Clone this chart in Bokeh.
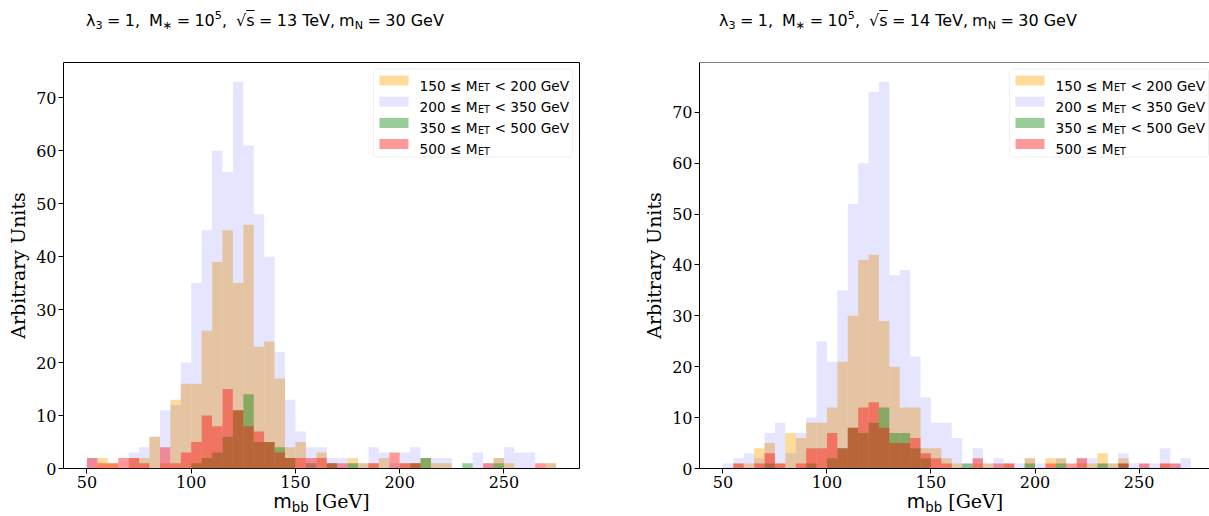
from bokeh.plotting import figure
from bokeh.layouts import row, column
from bokeh.models import FixedTicker, Label, BoxAnnotation, Span, Div
from bokeh.embed import file_html
from bokeh.resources import INLINE

# bin edges (GeV)
bin_left = list(range(50, 275, 5))
bin_right = [b + 5 for b in bin_left]

# sqrt(s) = 13 TeV
o13 = [0, 2, 1, 0, 2, 2, 6, 1, 13, 16, 16, 26, 39, 45, 35, 46, 23, 24, 17, 4, 5, 0, 3, 1, 0,
       2, 1, 1, 2, 0, 1, 1, 2, 1, 1, 0, 0, 0, 0, 2, 1, 0, 0, 0, 1]
b13 = [2, 0, 0, 0, 3, 4, 6, 11, 12, 20, 35, 45, 60, 56, 73, 61, 48, 40, 22, 13, 7, 4, 4, 2, 2,
       1, 1, 4, 3, 1, 3, 4, 2, 2, 2, 0, 0, 3, 1, 2, 4, 3, 3, 0, 1]
g13 = [0, 0, 0, 0, 0, 0, 0, 0, 0, 0, 1, 2, 3, 6, 11, 14, 5, 5, 4, 2, 0, 1, 0, 1, 0,
       1, 0, 0, 0, 0, 0, 1, 2, 0, 0, 0, 1, 0, 0, 1, 0, 0, 0, 0, 0]
r13 = [2, 1, 1, 2, 2, 1, 0, 4, 1, 3, 5, 10, 8, 15, 11, 8, 7, 5, 3, 2, 2, 2, 2, 1, 1,
       0, 0, 1, 0, 3, 1, 1, 0, 0, 0, 0, 0, 0, 1, 0, 0, 0, 0, 1, 0]

# sqrt(s) = 14 TeV
o14 = [0, 1, 1, 4, 5, 1, 7, 6, 9, 9, 12, 21, 30, 41, 42, 29, 20, 12, 12, 4, 4, 2, 1, 0, 1,
       1, 0, 1, 0, 2, 0, 2, 2, 0, 1, 1, 3, 1, 2, 0, 0, 0, 1, 0, 0]
b14 = [1, 2, 3, 2, 7, 9, 3, 7, 10, 25, 21, 35, 52, 60, 74, 76, 38, 39, 22, 14, 9, 9, 6, 1, 4,
       1, 2, 1, 1, 2, 1, 0, 2, 0, 2, 2, 1, 1, 3, 1, 1, 1, 4, 1, 2]
g14 = [0, 0, 0, 0, 1, 0, 0, 0, 1, 0, 2, 4, 8, 7, 9, 12, 7, 7, 4, 2, 0, 0, 0, 1, 0,
       0, 0, 0, 0, 1, 0, 0, 1, 0, 0, 0, 1, 0, 1, 0, 0, 0, 0, 0, 0]
r14 = [0, 1, 0, 1, 3, 1, 0, 1, 4, 4, 7, 4, 8, 12, 13, 8, 5, 5, 6, 3, 2, 1, 0, 0, 2,
       0, 1, 1, 0, 0, 0, 1, 0, 1, 2, 0, 0, 0, 1, 0, 1, 0, 1, 1, 0]

x_ticks = [50, 100, 150, 200, 250]
y_ticks = [0, 10, 20, 30, 40, 50, 60, 70]

series_head = ["150 \u2264 M", "200 \u2264 M", "350 \u2264 M", "500 \u2264 M"]
series_tail = ["< 200 GeV", "< 350 GeV", "< 500 GeV", ""]
colors = ["orange", "blue", "green", "red"]
alphas = [0.4, 0.1, 0.4, 0.4]

SANS = "DejaVu Sans"
SERIF = "DejaVu Serif"

TITLE_H = 44
FIG_H = 454
XL_H = 516 - TITLE_H - FIG_H


def make_panel(data, width, left_border, right_border, x_end, spine_right):
    ymax = max(max(d) for d in data) * 1.05
    p = figure(width=width, height=FIG_H, x_range=(38.75, x_end), y_range=(0, ymax),
               output_backend="svg", toolbar_location=None,
               min_border_left=left_border, min_border_right=right_border,
               min_border_top=62 - TITLE_H, min_border_bottom=FIG_H - (62 - TITLE_H) - 406)
    p.margin = 0
    p.xgrid.visible = False
    p.ygrid.visible = False
    p.background_fill_color = "white"
    p.border_fill_color = "white"
    if spine_right:
        p.outline_line_color = "black"
        p.outline_line_width = 1
        p.xaxis.axis_line_color = None
        p.yaxis.axis_line_color = None
    else:
        p.outline_line_color = None
        p.xaxis.axis_line_color = "black"
        p.yaxis.axis_line_color = "black"
        p.add_layout(Span(location=ymax, dimension="width", line_color="black", line_width=1))

    for vals, c, a in zip(data, colors, alphas):
        p.quad(left=bin_left, right=bin_right, bottom=0, top=vals,
               fill_color=c, fill_alpha=a, line_color=None)

    for ax, ticks in ((p.xaxis, x_ticks), (p.yaxis, y_ticks)):
        ax.ticker = FixedTicker(ticks=ticks)
        ax.minor_tick_line_color = None
        ax.major_tick_out = 5
        ax.major_tick_in = 0
        ax.major_tick_line_color = "black"
        ax.major_label_text_font = SERIF
        ax.major_label_text_font_size = "16px"
        ax.major_label_text_color = "black"
    p.xaxis.major_label_standoff = 2
    p.yaxis.major_label_standoff = 2
    p.yaxis.axis_label = "Arbitrary Units"
    p.yaxis.axis_label_text_font = SERIF
    p.yaxis.axis_label_text_font_size = "19px"
    p.yaxis.axis_label_text_font_style = "normal"
    p.yaxis.axis_label_text_color = "black"
    p.yaxis.axis_label_standoff = 4

    def lab(x, y, text, size):
        p.add_layout(Label(x=x, y=y, x_units="screen", y_units="screen", text=text,
                           text_font=SANS, text_font_size=size, text_color="black",
                           text_align="left", text_baseline="alphabetic"))

    # legend
    p.add_layout(BoxAnnotation(left=310, right=509, top=399.7, bottom=311.3,
                               left_units="screen", right_units="screen",
                               top_units="screen", bottom_units="screen",
                               fill_color="white", fill_alpha=0.8,
                               line_color="#cccccc", line_width=1, border_radius=3))
    fs = 13.7
    fsub = 9.6
    for i in range(4):
        base = 383 - 21.2 * i
        p.add_layout(BoxAnnotation(left=316, right=345, bottom=base, top=base + 10,
                                   left_units="screen", right_units="screen",
                                   top_units="screen", bottom_units="screen",
                                   fill_color=colors[i], fill_alpha=alphas[i], line_color=None))
        w1 = 4.245 * fs
        w2 = 1.243 * fsub
        lab(356, base, series_head[i], "%spx" % fs)
        lab(356 + w1 + 0.3, base - 2.4, "ET", "%spx" % fsub)
        if series_tail[i]:
            lab(356 + w1 + w2 + 4.8, base, series_tail[i], "%spx" % fs)
    return p


def title_div(width, left, energy):
    sub = "font-size:11.2px;position:relative;top:3px"
    sup = "font-size:11.2px;position:relative;top:-6.3px"
    eq = '<span style="margin:0 4.4px">=</span>'
    gap = '<span style="display:inline-block;width:9px"></span>'
    gap2 = '<span style="display:inline-block;width:4px"></span>'
    html = (
        '<div style="position:relative;width:%dpx;height:%dpx;">'
        '<div style="position:absolute;left:%.1fpx;top:12.5px;text-align:left;'
        'white-space:nowrap;font-family:\'DejaVu Sans\';font-size:16px;line-height:16px;color:black;">'
        '\u03bb<span style="{sub}">3</span>{eq}1,{gap}M<span style="{sub}">\u2217</span>{eq}10'
        '<span style="{sup}">5</span>,{gap}\u221a<span style="text-decoration:overline;">s</span>'
        '{eq}%s TeV,{gap2}m<span style="{sub}">N</span>{eq}30 GeV</div></div>'
    ) % (width, TITLE_H, left, energy)
    html = (html.replace("{sub}", sub).replace("{sup}", sup).replace("{eq}", eq)
            .replace("{gap2}", gap2).replace("{gap}", gap))
    return Div(text=html, width=width, height=TITLE_H, margin=0,
               styles={"overflow": "visible"})


def xlabel_div(width, center):
    html = (
        '<div style="position:relative;width:%dpx;height:%dpx;">'
        '<div style="position:absolute;left:0;top:-6px;width:%.1fpx;text-align:center;'
        'white-space:nowrap;font-family:\'DejaVu Sans\';font-size:19px;line-height:19px;color:black;">'
        'm<span style="font-size:13.3px;position:relative;top:3.5px;">bb</span>'
        '<span style="font-family:\'DejaVu Serif\';"> [GeV]</span></div></div>'
    ) % (width, XL_H, 2 * center)
    return Div(text=html, width=width, height=XL_H, margin=0,
               styles={"overflow": "visible"})


p1 = make_panel([o13, b13, g13, r13], 640, 63, 61, 286.25, True)
p2 = make_panel([o14, b14, g14, r14], 569, 58, 0, 283.86, False)

col1 = column(title_div(640, 86, "13"), p1, xlabel_div(640, 321.4), spacing=0, margin=0)
col2 = column(title_div(569, 79, "14"), p2, xlabel_div(569, 315.0), spacing=0, margin=0)
layout = row(col1, col2, spacing=0, margin=0)
open("out.html", "w").write(file_html(layout, INLINE))
